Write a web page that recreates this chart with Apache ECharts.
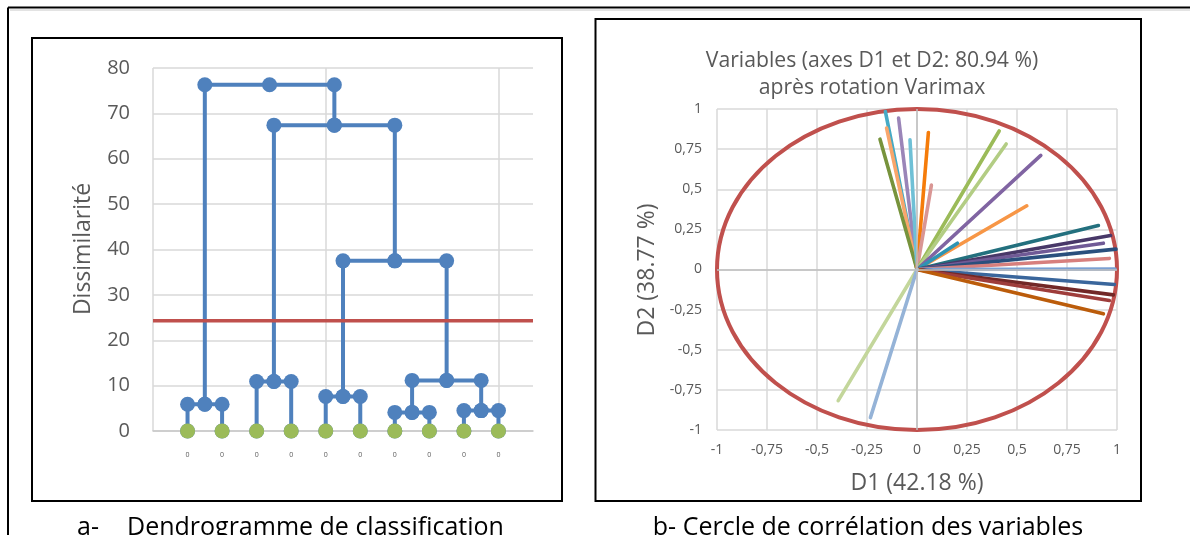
<!DOCTYPE html>
<html>
<head>
<meta charset="utf-8">
<script src="https://cdn.jsdelivr.net/npm/echarts@6/dist/echarts.min.js"></script>
<style>
html,body{margin:0;padding:0;background:#fff;}
#c{width:1190px;height:535px;}
</style>
</head>
<body>
<div id="c"></div>
<script>
const FONT = '"Open Sans", "Noto Sans", sans-serif';

// ---------- a- Dendrogram data ----------
const leafX = [1, 2, 3, 4, 5, 6, 7, 8, 9, 10];
const leafLabels = ['0', '0', '0', '0', '0', '0', '0', '0', '0', '0'];
// each merge: left child (x, height), right child (x, height), merge height
const nodeHeight = [5.9, 10.9, 7.6, 4.1, 4.5, 11.15, 37.5, 67.4, 76.3];
const nodeLeftX  = [1, 3, 5, 7, 9, 7.5, 5.5, 3.5, 1.5];
const nodeLeftH  = [0, 0, 0, 0, 0, 4.1, 7.6, 10.9, 5.9];
const nodeRightX = [2, 4, 6, 8, 10, 9.5, 8.5, 7.0, 5.25];
const nodeRightH = [0, 0, 0, 0, 0, 4.5, 11.15, 37.5, 67.4];
const cutLevel = 24.3;
const dissimMin = 0, dissimMax = 80, dissimStep = 10;
const leafAxisMin = 0, leafAxisMax = 11, leafAxisStep = 5;

// ---------- b- Correlation circle data ----------
const loadD1 = [-0.158, -0.092, -0.152, -0.185, -0.035, 0.057, 0.072, 0.411, 0.446, 0.619, 0.549, 0.202,
                0.907, 0.968, 0.932, 0.995, 0.962, 0.990, 0.987, 0.982, 0.962, 0.932, -0.394, -0.233];
const loadD2 = [0.984, 0.943, 0.881, 0.812, 0.808, 0.854, 0.526, 0.863, 0.782, 0.711, 0.397, 0.164,
                0.274, 0.212, 0.164, 0.127, 0.069, 0.003, -0.093, -0.158, -0.193, -0.276, -0.817, -0.923];
const varColors = ['#46aac5', '#9a85b8', '#f9a66b', '#77933c', '#6fc0d6', '#f57c0a', '#d99694', '#9bbb59',
                   '#b3cd84', '#8064a2', '#f79646', '#2e94b4', '#23707e', '#483868', '#705a96', '#2a4f7d',
                   '#d77f7d', '#7ba0d2', '#3a669c', '#722827', '#9e3d3b', '#bb5c0b', '#c3d69b', '#95b3d7'];
const circleRadius = 1;
const corrMin = -1, corrMax = 1, corrStep = 0.25;

const GRID_COLOR = '#d9d9d9';
const TXT = '#595959';

const series = [];

// dendrogram links
for (let i = 0; i < nodeHeight.length; i++) {
  const h = nodeHeight[i];
  const xc = (nodeLeftX[i] + nodeRightX[i]) / 2;
  series.push({
    type: 'line', xAxisIndex: 0, yAxisIndex: 0, z: 3,
    data: [[nodeLeftX[i], nodeLeftH[i]], [nodeLeftX[i], h], [xc, h], [nodeRightX[i], h], [nodeRightX[i], nodeRightH[i]]],
    symbol: 'circle', symbolSize: 15, showSymbol: true,
    itemStyle: { color: '#4f81bd' },
    lineStyle: { color: '#4f81bd', width: 4 },
    silent: true
  });
}
// leaves
series.push({
  type: 'scatter', xAxisIndex: 0, yAxisIndex: 0, z: 4,
  data: leafX.map(x => [x, 0]),
  symbol: 'circle', symbolSize: 15,
  itemStyle: { color: '#9bbb59', opacity: 1 },
  label: { show: true, position: 'bottom', distance: 13, fontSize: 7, color: TXT, fontFamily: FONT,
           formatter: p => leafLabels[p.dataIndex] },
  silent: true
});
// cut line
series.push({
  type: 'line', xAxisIndex: 0, yAxisIndex: 0, z: 5,
  data: [[leafAxisMin, cutLevel], [leafAxisMax, cutLevel]],
  symbol: 'none', lineStyle: { color: '#c0504d', width: 3.5 }, clip: false, silent: true
});

// correlation circle: zero lines
series.push({
  type: 'line', xAxisIndex: 1, yAxisIndex: 1, z: 1, data: [], silent: true,
  markLine: {
    silent: true, symbol: ['none', 'none'], label: { show: false }, animation: false,
    lineStyle: { color: '#bfbfbf', width: 1.5, type: 'solid' },
    data: [{ xAxis: 0 }, { yAxis: 0 }]
  }
});
// unit circle (drawn through the axis scales)
series.push({
  type: 'custom', xAxisIndex: 1, yAxisIndex: 1, z: 2, clip: false, silent: true,
  data: [[0, 0, circleRadius]],
  renderItem: (params, api) => {
    const c = api.coord([api.value(0), api.value(1)]);
    const s = api.size([api.value(2), api.value(2)]);
    return { type: 'ellipse', shape: { cx: c[0], cy: c[1], rx: s[0], ry: s[1] },
             style: { fill: 'none', stroke: '#c0504d', lineWidth: 4 } };
  }
});
// variable vectors
for (let i = 0; i < loadD1.length; i++) {
  series.push({
    type: 'line', xAxisIndex: 1, yAxisIndex: 1, z: 3,
    data: [[0, 0], [loadD1[i], loadD2[i]]],
    symbol: 'none',
    lineStyle: { color: varColors[i], width: 3.6, cap: 'round' },
    silent: true
  });
}

const corrFmt = v => String(v).replace('.', ',');

const option = {
  animation: false,
  title: {
    text: 'Variables (axes D1 et D2: 80.94 %)\naprès rotation Varimax',
    left: 867, top: 42, textAlign: 'center',
    textStyle: { fontFamily: FONT, fontSize: 21.2, fontWeight: 'normal', color: TXT, lineHeight: 27 }
  },
  grid: [
    { left: 153, top: 68, width: 380, height: 363 },
    { left: 717, top: 109, width: 400, height: 321 }
  ],
  xAxis: [
    { type: 'value', gridIndex: 0, min: leafAxisMin, max: leafAxisMax, interval: leafAxisStep,
      axisLabel: { show: false }, axisTick: { show: false },
      axisLine: { show: true, lineStyle: { color: '#c8c8c8', width: 1.5 } },
      splitLine: { show: true, showMaxLine: false, lineStyle: { color: GRID_COLOR, width: 1.5 } } },
    { type: 'value', gridIndex: 1, min: corrMin, max: corrMax, interval: corrStep,
      axisLabel: { show: true, formatter: corrFmt, fontFamily: FONT, fontSize: 14, color: TXT, margin: 13 },
      axisTick: { show: false }, axisLine: { show: false },
      splitLine: { show: true, lineStyle: { color: GRID_COLOR, width: 1.5 } } }
  ],
  yAxis: [
    { type: 'value', gridIndex: 0, min: dissimMin, max: dissimMax, interval: dissimStep,
      axisLabel: { fontFamily: FONT, fontSize: 20, color: TXT, margin: 23 },
      axisTick: { show: false }, axisLine: { show: false },
      splitLine: { show: true, lineStyle: { color: GRID_COLOR, width: 1.5 } } },
    { type: 'value', gridIndex: 1, min: corrMin, max: corrMax, interval: corrStep,
      axisLabel: { formatter: corrFmt, fontFamily: FONT, fontSize: 14, color: TXT, margin: 15 },
      axisTick: { show: false }, axisLine: { show: false },
      splitLine: { show: true, lineStyle: { color: GRID_COLOR, width: 1.5 } } }
  ],
  graphic: [
    // page frame
    { type: 'line', shape: { x1: 8, y1: 7.5, x2: 1190, y2: 7.5 }, style: { stroke: '#000', lineWidth: 2 }, silent: true },
    { type: 'line', shape: { x1: 10, y1: 10, x2: 1190, y2: 10 }, style: { stroke: '#c8c8c8', lineWidth: 1 }, silent: true },
    { type: 'line', shape: { x1: 8, y1: 7.5, x2: 8, y2: 535 }, style: { stroke: '#000', lineWidth: 2 }, silent: true },
    // chart boxes
    { type: 'rect', shape: { x: 32, y: 38, width: 530, height: 463 }, style: { fill: 'none', stroke: '#000', lineWidth: 2 }, silent: true },
    { type: 'rect', shape: { x: 595.5, y: 19, width: 545.5, height: 482 }, style: { fill: 'none', stroke: '#000', lineWidth: 2 }, silent: true },
    // axis titles
    { type: 'text', x: 83, y: 249, rotation: Math.PI / 2, silent: true,
      style: { text: 'Dissimilarité', fontFamily: FONT, fontSize: 23, fill: TXT, align: 'center', verticalAlign: 'middle' } },
    { type: 'text', x: 647, y: 270, rotation: Math.PI / 2, silent: true,
      style: { text: 'D2 (38.77 %)', fontFamily: FONT, fontSize: 23, fill: TXT, align: 'center', verticalAlign: 'middle' } },
    { type: 'text', x: 917, y: 483, silent: true,
      style: { text: 'D1 (42.18 %)', fontFamily: FONT, fontSize: 23, fill: TXT, align: 'center', verticalAlign: 'middle' } },
    // captions
    { type: 'text', x: 77, y: 528, silent: true,
      style: { text: 'a-', fontFamily: FONT, fontSize: 25, fill: '#000', align: 'left', verticalAlign: 'middle' } },
    { type: 'text', x: 127, y: 528, silent: true,
      style: { text: 'Dendrogramme de classification', fontFamily: FONT, fontSize: 25, fill: '#000', align: 'left', verticalAlign: 'middle' } },
    { type: 'text', x: 868, y: 528, silent: true,
      style: { text: 'b- Cercle de corrélation des variables', fontFamily: FONT, fontSize: 25, fill: '#000', align: 'center', verticalAlign: 'middle' } }
  ],
  series: series
};

const chart = echarts.init(document.getElementById('c'), null, { renderer: 'canvas' });
chart.setOption(option);
</script>
</body>
</html>
